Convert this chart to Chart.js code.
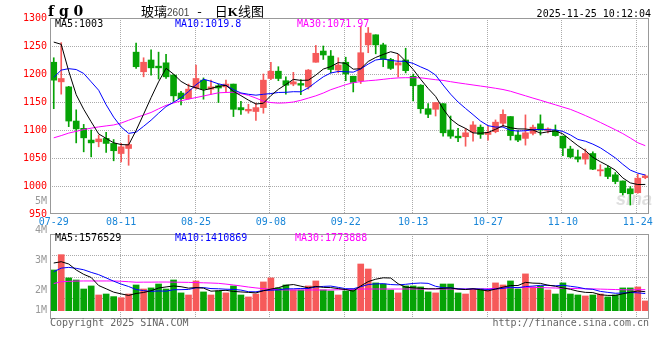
<!DOCTYPE html>
<html>
<head>
<meta charset="utf-8">
<script src="https://cdn.jsdelivr.net/npm/chart.js@4.4.1/dist/chart.umd.min.js"></script>
<style>
  html, body { margin:0; padding:0; background:#ffffff; }
  #wrap { position:relative; width:660px; height:360px; overflow:hidden; background:#ffffff; }
  #wrap canvas { position:absolute; left:0; }
  .t { position:absolute; white-space:nowrap; font-family:'DejaVu Sans Mono', monospace; font-size:10px; line-height:12px; }
</style>
</head>
<body>
<div id="wrap">
  <canvas id="priceChart" width="660" height="232" style="top:0px;width:660px;height:232px"></canvas>
  <canvas id="volChart" width="660" height="170" style="top:190px;width:660px;height:170px"></canvas>
  <div class="t" style="left:48px;top:3px;font-family:'DejaVu Serif';font-weight:bold;font-size:14px;line-height:16px;color:#000">f g 0</div>
  <div class="t" style="left:141px;top:3px;font-family:'Noto Sans CJK SC';font-size:13px;line-height:16px;color:#000">玻璃<span style="font-family:'Liberation Sans';font-size:10px;color:#444">2601</span><span style="margin:0 13px 0 8px">-</span>日<span style="font-family:'Liberation Serif';font-weight:bold;font-size:13px">K</span>线图</div>
  <div class="t" style="right:9px;top:8px;color:#000">2025-11-25 10:12:04</div>
  <div class="t" id="pma0" style="left:55px;top:18px;color:#000"></div>
  <div class="t" id="pma1" style="left:175px;top:18px;color:#0000ff"></div>
  <div class="t" id="pma2" style="left:297px;top:18px;color:#ff00ff"></div>
  <div class="t" id="vma0" style="left:55px;top:232px;color:#000"></div>
  <div class="t" id="vma1" style="left:175px;top:232px;color:#0000ff"></div>
  <div class="t" id="vma2" style="left:295px;top:232px;color:#ff00ff"></div>
  <div class="t" style="left:50px;top:317px;color:#666">Copyright 2025 SINA.COM</div>
  <div class="t" style="right:11px;top:317px;color:#666">http://finance.sina.com.cn</div>
</div>
<script>
// ---------- data ----------
const dates = ['07-29','07-30','07-31','08-01','08-04','08-05','08-06','08-07','08-08','08-11',
  '08-12','08-13','08-14','08-15','08-18','08-19','08-20','08-21','08-22','08-25',
  '08-26','08-27','08-28','08-29','09-01','09-02','09-03','09-04','09-05','09-08',
  '09-09','09-10','09-11','09-12','09-15','09-16','09-17','09-18','09-19','09-22',
  '09-23','09-24','09-25','09-26','09-29','09-30','10-09','10-10','10-13','10-14',
  '10-15','10-16','10-17','10-20','10-21','10-22','10-23','10-24','10-27','10-28',
  '10-29','10-30','10-31','11-03','11-04','11-05','11-06','11-07','11-10','11-11',
  '11-12','11-13','11-14','11-17','11-18','11-19','11-20','11-21','11-24','11-25'];
const tickDates = ['07-29','08-11','08-25','09-08','09-22','10-13','10-27','11-10','11-24'];
const priceTicks = [1300,1250,1200,1150,1100,1050,1000,950];
const volTickLabels = ['5M','4M','3M','2M','1M'];
const priceMaLabels = ['MA5:1003','MA10:1019.8','MA30:1071.97'];
const volMaLabels = ['MA5:1576529','MA10:1410869','MA30:1773888'];

const opens = [1221,1186,1177,1116,1103,1082,1079,1085,1076,1058,
  1067,1239,1204,1225,1214,1220,1198,1166,1156,1175,
  1189,1173,1179,1177,1182,1140,1134,1133,1140,1192,
  1205,1188,1182,1183,1177,1221,1241,1232,1207,1221,
  1196,1188,1252,1270,1252,1226,1216,1225,1196,1180,
  1138,1137,1147,1100,1089,1088,1096,1105,1092,1097,
  1112,1124,1091,1085,1094,1111,1099,1099,1089,1066,
  1052,1048,1058,1027,1032,1020,1009,995,988,1015];
const highs = [1229,1256,1178,1136,1110,1100,1091,1096,1083,1076,
  1091,1255,1229,1243,1239,1235,1199,1169,1182,1216,
  1193,1189,1182,1189,1182,1151,1146,1148,1200,1221,
  1213,1195,1203,1190,1208,1251,1250,1242,1229,1230,
  1196,1285,1283,1270,1255,1228,1235,1246,1200,1181,
  1147,1149,1147,1125,1103,1103,1115,1109,1107,1118,
  1136,1124,1099,1127,1109,1127,1104,1109,1089,1071,
  1064,1066,1061,1038,1036,1024,1009,999,1021,1020];
const lows = [1138,1164,1106,1077,1061,1052,1070,1060,1045,1043,
  1037,1210,1195,1198,1191,1192,1151,1145,1155,1173,
  1155,1164,1149,1167,1124,1128,1130,1117,1130,1190,
  1188,1164,1179,1163,1173,1221,1226,1202,1202,1188,
  1168,1183,1238,1236,1213,1208,1195,1202,1152,1130,
  1122,1125,1089,1085,1079,1071,1080,1085,1082,1095,
  1106,1082,1079,1073,1091,1091,1095,1089,1054,1050,
  1043,1039,1029,1018,1013,1004,984,966,987,1013];
const closes = [1189,1192,1116,1102,1086,1077,1084,1076,1063,1070,
  1074,1213,1221,1211,1211,1195,1161,1156,1173,1192,
  1173,1177,1175,1182,1137,1136,1137,1140,1189,1205,
  1192,1180,1186,1180,1207,1237,1234,1208,1216,1200,
  1185,1238,1273,1252,1226,1210,1220,1206,1179,1138,
  1128,1149,1095,1089,1086,1095,1109,1092,1096,1114,
  1128,1090,1082,1095,1105,1100,1102,1090,1068,1052,
  1048,1058,1030,1029,1017,1008,988,986,1014,1018];
const ma5 = [1257,1253,1205,1163,1137,1114.6,1093,1085,1077.2,1074,
  1073.4,1099.2,1128.2,1157.8,1186,1210.2,1199.8,1186.8,1179.2,1175.4,
  1171,1174.2,1178,1179.8,1168.8,1161.4,1153.4,1146.4,1147.8,1161.4,
  1172.6,1181.2,1190.4,1188.6,1189,1198,1208.8,1213.2,1220.4,1219,
  1208.6,1209.4,1222.4,1229.6,1234.8,1239.8,1236.2,1222.8,1208.2,1190.6,
  1174.2,1160,1137.8,1119.8,1109.4,1102.8,1094.8,1094.2,1095.6,1101.2,
  1107.8,1104,1102,1101.8,1100,1094.4,1096.8,1098.4,1093,1082.4,
  1072,1063.2,1051.2,1043.4,1036.4,1028.4,1014.4,1005.6,1002.6,1002.8];
const ma10 = [1194,1207,1209.5,1208,1201,1186,1171,1145,1123,1105.5,
  1094,1096.1,1106.6,1117.5,1130,1141.8,1149.5,1157.5,1168.5,1180.7,
  1190.6,1187,1182.4,1179.5,1172.1,1166.2,1163.8,1162.2,1163.8,1165.1,
  1167,1167.3,1168.4,1168.2,1175.2,1185.3,1195,1201.8,1204.5,1204,
  1203.3,1209.1,1217.8,1225,1226.9,1224.2,1222.8,1222.6,1218.9,1212.7,
  1207,1198.1,1180.3,1164,1150,1138.5,1127.4,1116,1107.7,1105.3,
  1105.3,1099.4,1098.1,1098.7,1100.6,1101.1,1100.4,1100.2,1097.4,1091.2,
  1083.2,1080,1074.8,1068.2,1059.4,1050.2,1038.8,1028.4,1023,1019.6];
const ma30 = [1086,1090,1094.5,1097.6,1100.8,1103.3,1105.5,1107.3,1109,1112.4,
  1117.4,1122.3,1126.7,1131.3,1137.8,1144,1148.2,1152.2,1155.2,1157.9,
  1160.7,1163.6,1166.4,1167,1167.5,1165,1162,1157,1151.5,1149,
  1148,1148.5,1150,1153,1157,1161,1166,1172,1176.5,1181,
  1184.5,1186.5,1188,1189,1190.5,1192,1193,1193.4,1193.4,1193.2,
  1191.5,1189.8,1188.5,1186.3,1184.2,1182.3,1180.4,1178.5,1176.6,1174.5,
  1172.3,1169.2,1165.1,1161.1,1157,1153.1,1149,1145,1140.9,1136.9,
  1131.5,1125.8,1119.8,1113.5,1107,1100.5,1093.6,1085.7,1077.3,1072];
// volume, millions
const vol = [3.58,4.99,2.85,2.66,1.83,2.11,1.28,1.37,1.13,1.03,
  1.37,2.20,1.83,1.93,2.29,1.83,2.66,1.47,1.28,2.57,
  1.56,1.28,1.65,1.47,2.11,1.28,1.10,1.37,2.48,2.85,
  1.93,2.20,1.74,1.74,2.11,2.57,1.74,1.65,1.28,1.65,
  1.83,4.13,3.67,2.39,2.29,1.74,1.47,2.11,2.11,2.02,
  1.56,1.47,2.29,2.29,1.47,1.37,1.83,1.83,1.74,2.39,
  2.20,2.57,1.83,3.22,2.02,2.11,1.74,1.37,2.39,1.37,
  1.28,1.19,1.28,1.37,1.10,1.28,1.93,1.93,2.02,0.73];
const vma5 = [4.22,4.34,4.13,3.58,3.18,2.89,2.15,1.85,1.54,1.38,
  1.24,1.42,1.51,1.67,1.92,2.02,2.11,2.04,1.91,1.96,
  1.91,1.63,1.67,1.71,1.61,1.56,1.52,1.47,1.67,1.82,
  1.95,2.17,2.24,2.09,1.94,2.07,1.98,1.96,1.87,1.78,
  1.63,2.11,2.51,2.73,2.86,2.84,2.31,2.00,1.94,1.89,
  1.85,1.85,1.89,1.93,1.82,1.78,1.85,1.76,1.65,1.83,
  2.00,2.15,2.15,2.44,2.37,2.35,2.18,2.09,1.93,1.80,
  1.63,1.52,1.50,1.30,1.24,1.24,1.39,1.52,1.65,1.58];
const vma10 = [3.42,3.75,3.82,3.73,3.60,3.36,3.15,2.85,2.55,2.28,
  2.06,1.78,1.68,1.61,1.65,1.63,1.76,1.77,1.79,1.94,
  1.96,1.87,1.85,1.81,1.79,1.73,1.58,1.57,1.69,1.72,
  1.75,1.84,1.85,1.88,1.88,2.01,2.07,2.10,1.98,1.86,
  1.85,2.04,2.24,2.30,2.32,2.24,2.21,2.26,2.34,2.38,
  2.35,2.08,1.95,1.94,1.85,1.82,1.85,1.82,1.79,1.82,
  1.89,2.00,1.95,2.05,2.10,2.17,2.17,2.12,2.18,2.08,
  1.99,1.85,1.80,1.61,1.52,1.44,1.46,1.51,1.48,1.41];
const vma30 = [2.33,2.50,2.53,2.56,2.57,2.57,2.57,2.57,2.57,2.54,
  2.50,2.45,2.46,2.46,2.47,2.47,2.46,2.45,2.44,2.42,
  2.40,2.38,2.35,2.28,2.20,2.11,2.01,1.93,1.86,1.80,
  1.76,1.74,1.74,1.74,1.74,1.74,1.74,1.74,1.76,1.78,
  1.80,1.83,1.83,1.83,1.83,1.83,1.83,1.83,1.83,1.83,
  1.83,1.83,1.83,1.83,1.83,1.83,1.83,1.83,1.85,1.89,
  1.92,1.94,1.96,1.98,1.98,1.96,1.94,1.92,1.90,1.88,
  1.87,1.85,1.84,1.82,1.80,1.78,1.76,1.75,1.76,1.77];

// ---------- labels ----------
priceMaLabels.forEach((s,i)=>{ document.getElementById('pma'+i).textContent = s; });
volMaLabels.forEach((s,i)=>{ document.getElementById('vma'+i).textContent = s; });

// ---------- styling ----------
const UP = '#f65a5a', DOWN = '#06a306';
const GRID = '#aaaaaa', BOX = '#999999';
const candleColor = ctx => (closes[ctx.dataIndex] >= opens[ctx.dataIndex] ? UP : DOWN);
const MONO = 'DejaVu Sans Mono';

function dotted(ctx, x1, y1, x2, y2) {
  ctx.beginPath(); ctx.moveTo(x1, y1); ctx.lineTo(x2, y2); ctx.stroke();
}
function drawVerticalGrid(chart) {
  const { ctx, chartArea: a, scales: { x } } = chart;
  tickDates.forEach(d => {
    const i = dates.indexOf(d);
    if (i <= 0) return;
    const px = Math.floor(x.getPixelForValue(i)) - 0.5;
    dotted(ctx, px, a.top, px, a.bottom);
  });
}
function drawBox(chart) {
  const { ctx, chartArea: a } = chart;
  ctx.save();
  ctx.setLineDash([]);
  ctx.strokeStyle = BOX; ctx.lineWidth = 1;
  ctx.strokeRect(Math.round(a.left) + 0.5, Math.round(a.top) + 0.5,
                 Math.round(a.right - a.left) - 1, Math.round(a.bottom - a.top) - 1);
  ctx.restore();
}

const pricePanel = {
  id: 'pricePanel',
  beforeDatasetsDraw(chart) {
    const { ctx, chartArea: a, scales: { y } } = chart;
    ctx.save();
    ctx.font = 'italic bold 18px "Liberation Sans"';
    ctx.fillStyle = 'rgba(185,185,185,0.45)';
    ctx.textBaseline = 'alphabetic';
    ctx.fillText('sina', a.right - 33, a.bottom - 9);
    ctx.strokeStyle = GRID; ctx.lineWidth = 1; ctx.setLineDash([1, 1]);
    priceTicks.slice(1, -1).forEach(v => {
      const py = Math.round(y.getPixelForValue(v)) + 0.5;
      dotted(ctx, a.left, py, a.right, py);
    });
    drawVerticalGrid(chart);
    ctx.restore();
  },
  afterDatasetsDraw(chart) { drawBox(chart); }
};

const volPanel = {
  id: 'volPanel',
  beforeDatasetsDraw(chart) {
    const { ctx, chartArea: a } = chart;
    ctx.save();
    ctx.strokeStyle = GRID; ctx.lineWidth = 1; ctx.setLineDash([1, 1]);
    for (let k = 1; k < 4; k++) {
      const py = Math.round(a.top + (a.bottom - a.top) * k / 4) + 0.5;
      dotted(ctx, a.left, py, a.right, py);
    }
    drawVerticalGrid(chart);
    ctx.restore();
  },
  afterDatasetsDraw(chart) {
    drawBox(chart);
    const { ctx, chartArea: a } = chart;
    const ys = [11, 40.7, 70.7, 100.7, 120.7];
    ctx.save();
    ctx.font = '10px "' + MONO + '"';
    ctx.fillStyle = '#999999';
    ctx.textAlign = 'right'; ctx.textBaseline = 'middle';
    volTickLabels.forEach((s, i) => ctx.fillText(s, a.left - 3, ys[i]));
    ctx.restore();
  }
};

const lineDs = (label, data, color) => ({
  type: 'line', label, data, borderColor: color, borderWidth: 1,
  pointRadius: 0, tension: 0, fill: false, order: 0
});

new Chart(document.getElementById('priceChart'), {
  type: 'bar',
  data: {
    labels: dates,
    datasets: [
      lineDs('MA5', ma5, '#000000'),
      lineDs('MA10', ma10, '#0000ff'),
      lineDs('MA30', ma30, '#ff00ff'),
      { label: 'body', data: opens.map((o, i) => [o, closes[i]]), backgroundColor: candleColor,
        barThickness: 6, minBarLength: 1, grouped: false, order: 1 },
      { label: 'wick', data: lows.map((l, i) => [l, highs[i]]), backgroundColor: candleColor,
        barThickness: 1, grouped: false, order: 2 }
    ]
  },
  options: {
    responsive: false, animation: false,
    layout: { padding: { top: 18, right: 11, left: 0, bottom: 0 } },
    plugins: { legend: { display: false }, tooltip: { enabled: false } },
    scales: {
      x: {
        type: 'category', offset: true,
        grid: { display: false, drawTicks: false }, border: { display: false },
        afterFit: s => { s.height = 18; },
        ticks: {
          autoSkip: false, maxRotation: 0, minRotation: 0, padding: 2,
          color: '#1a86d8', font: { family: MONO, size: 10 },
          callback: (v, i) => (tickDates.includes(dates[i]) ? dates[i] : '')
        }
      },
      y: {
        min: priceTicks[priceTicks.length - 1], max: priceTicks[0],
        grid: { display: false, drawTicks: false }, border: { display: false },
        afterFit: s => { s.width = 50; },
        afterBuildTicks: s => { s.ticks = priceTicks.map(v => ({ value: v })); },
        ticks: { padding: 3, color: '#ff0000', font: { family: MONO, size: 10 },
                 callback: v => String(v) }
      }
    }
  },
  plugins: [pricePanel]
});

new Chart(document.getElementById('volChart'), {
  type: 'bar',
  data: {
    labels: dates,
    datasets: [
      lineDs('VMA5', vma5, '#000000'),
      lineDs('VMA10', vma10, '#0000ff'),
      lineDs('VMA30', vma30, '#ff00ff'),
      { label: 'vol', data: vol, backgroundColor: candleColor, barThickness: 6,
        base: -0.166, order: 1 }
    ]
  },
  options: {
    responsive: false, animation: false,
    layout: { padding: { top: 44, right: 11, left: 50, bottom: 41 } },
    plugins: { legend: { display: false }, tooltip: { enabled: false } },
    scales: {
      x: { type: 'category', offset: true, display: false },
      y: { display: false, min: -0.93, max: 6.89 }
    }
  },
  plugins: [volPanel]
});
</script>
</body>
</html>
